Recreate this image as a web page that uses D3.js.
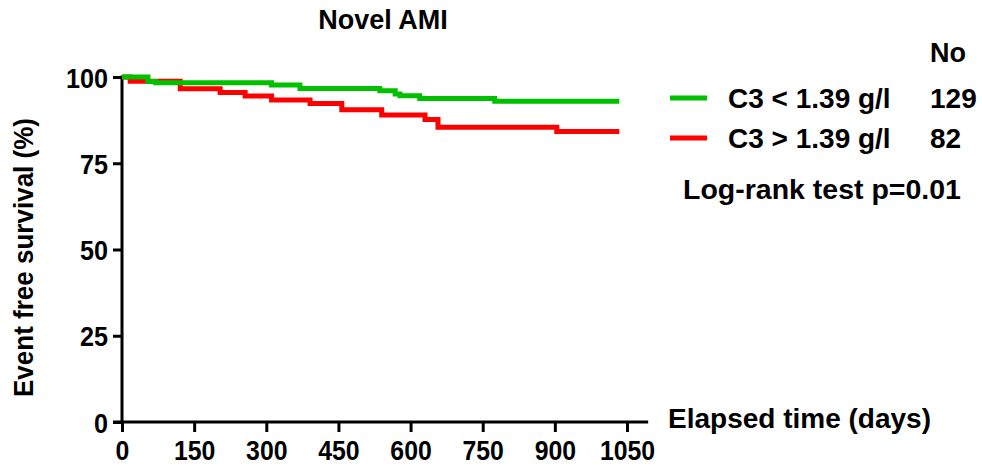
<!DOCTYPE html>
<html>
<head>
<meta charset="utf-8">
<script src="https://cdn.jsdelivr.net/npm/d3@7"></script>
<style>
  html, body { margin: 0; padding: 0; background: #fff; }
  svg { display: block; font-family: "Liberation Sans", Arial, sans-serif; font-weight: bold; }
</style>
</head>
<body>
<svg id="chart" width="982" height="466"></svg>
<script>
// ---- data ----
const greenTimes  = [0, 54, 70, 311, 370, 536, 568, 578, 619, 775, 1034];
const greenSurv   = [100, 98.7, 98.3, 97.7, 96.7, 96.0, 95.1, 94.6, 93.8, 93.0, 93.0];
const redTimes    = [0, 17, 121, 204, 256, 311, 391, 457, 540, 630, 657, 904, 1034];
const redSurv     = [100, 98.8, 96.6, 95.5, 94.5, 93.3, 92.3, 90.5, 89.0, 87.7, 85.4, 84.2, 84.2];
const xTicks = [0, 150, 300, 450, 600, 750, 900, 1050];
const yTicks = [0, 25, 50, 75, 100];
const xAxisEnd = 1094;
const seriesNames = ["C3 < 1.39 g/l", "C3 > 1.39 g/l"];
const seriesCounts = ["129", "82"];
const seriesColors = ["#00c000", "#ff0000"];

const svg = d3.select("#chart");
const x = d3.scaleLinear().domain([0, 1050]).range([122, 627]);
const y = d3.scaleLinear().domain([0, 100]).range([422, 77]);

// title
svg.append("text").attr("x", 383).attr("y", 29).attr("text-anchor", "middle")
  .attr("font-size", 27).text("Novel AMI");

// y axis
const yAxis = svg.append("g").attr("transform", `translate(${x(0)},0)`)
  .call(d3.axisLeft(y).tickValues(yTicks).tickFormat(d3.format("d")).tickSize(9).tickSizeOuter(0).tickPadding(0));
yAxis.select(".domain").remove();
yAxis.append("line").attr("x1", 0).attr("x2", 0).attr("y1", y(0) + 1.5).attr("y2", y(100) - 1.5)
  .attr("stroke", "#000").attr("stroke-width", 3);
yAxis.selectAll(".tick line").attr("stroke", "#000").attr("stroke-width", 3);
yAxis.selectAll(".tick text").attr("x", null).attr("font-size", 28).attr("font-weight", "bold")
  .attr("font-family", "Liberation Sans, Arial, sans-serif").attr("fill", "#000").attr("dy", "0.36em")
  .attr("transform", "translate(-14,0) scale(0.9,1)");

// x axis
const xAxis = svg.append("g").attr("transform", `translate(0,${y(0)})`)
  .call(d3.axisBottom(x).tickValues(xTicks).tickFormat(d3.format("d")).tickSize(10).tickSizeOuter(0).tickPadding(0));
xAxis.select(".domain").remove();
xAxis.append("line").attr("x1", x(0) - 9).attr("x2", x(xAxisEnd)).attr("y1", 0).attr("y2", 0)
  .attr("stroke", "#000").attr("stroke-width", 3);
xAxis.selectAll(".tick line").attr("stroke", "#000").attr("stroke-width", 3);
xAxis.selectAll(".tick text").attr("y", 38).attr("dy", null).attr("font-size", 27).attr("font-weight", "bold")
  .attr("font-family", "Liberation Sans, Arial, sans-serif").attr("fill", "#000")
  .attr("transform", "scale(0.92,1)");

// axis titles
svg.append("text").attr("transform", `translate(33,257.5) rotate(-90)`).attr("text-anchor", "middle")
  .attr("font-size", 28).attr("textLength", 279).attr("lengthAdjust", "spacingAndGlyphs")
  .text("Event free survival (%)");
svg.append("text").attr("x", 668).attr("y", 428).attr("font-size", 28).text("Elapsed time (days)");

// curves
const line = d3.line().x(d => x(d[0])).y(d => y(d[1])).curve(d3.curveStepAfter);
const redData = redTimes.map((t, i) => [t, redSurv[i]]);
const greenData = greenTimes.map((t, i) => [t, greenSurv[i]]);
svg.append("path").datum(redData).attr("d", line).attr("fill", "none")
  .attr("stroke", seriesColors[1]).attr("stroke-width", 5);
svg.append("path").datum(greenData).attr("d", line).attr("fill", "none")
  .attr("stroke", seriesColors[0]).attr("stroke-width", 5);

// legend
svg.append("text").attr("x", 930).attr("y", 62).attr("font-size", 27).text("No");
const rowsY = [108, 148];
seriesNames.forEach((name, i) => {
  svg.append("line").attr("x1", 670).attr("x2", 707).attr("y1", rowsY[i] - 10).attr("y2", rowsY[i] - 10)
    .attr("stroke", seriesColors[i]).attr("stroke-width", 5);
  svg.append("text").attr("x", 728).attr("y", rowsY[i]).attr("font-size", 28).text(name);
  svg.append("text").attr("x", 930).attr("y", rowsY[i]).attr("font-size", 28).text(seriesCounts[i]);
});
svg.append("text").attr("x", 683).attr("y", 199).attr("font-size", 28.5).text("Log-rank test p=0.01");
</script>
</body>
</html>
